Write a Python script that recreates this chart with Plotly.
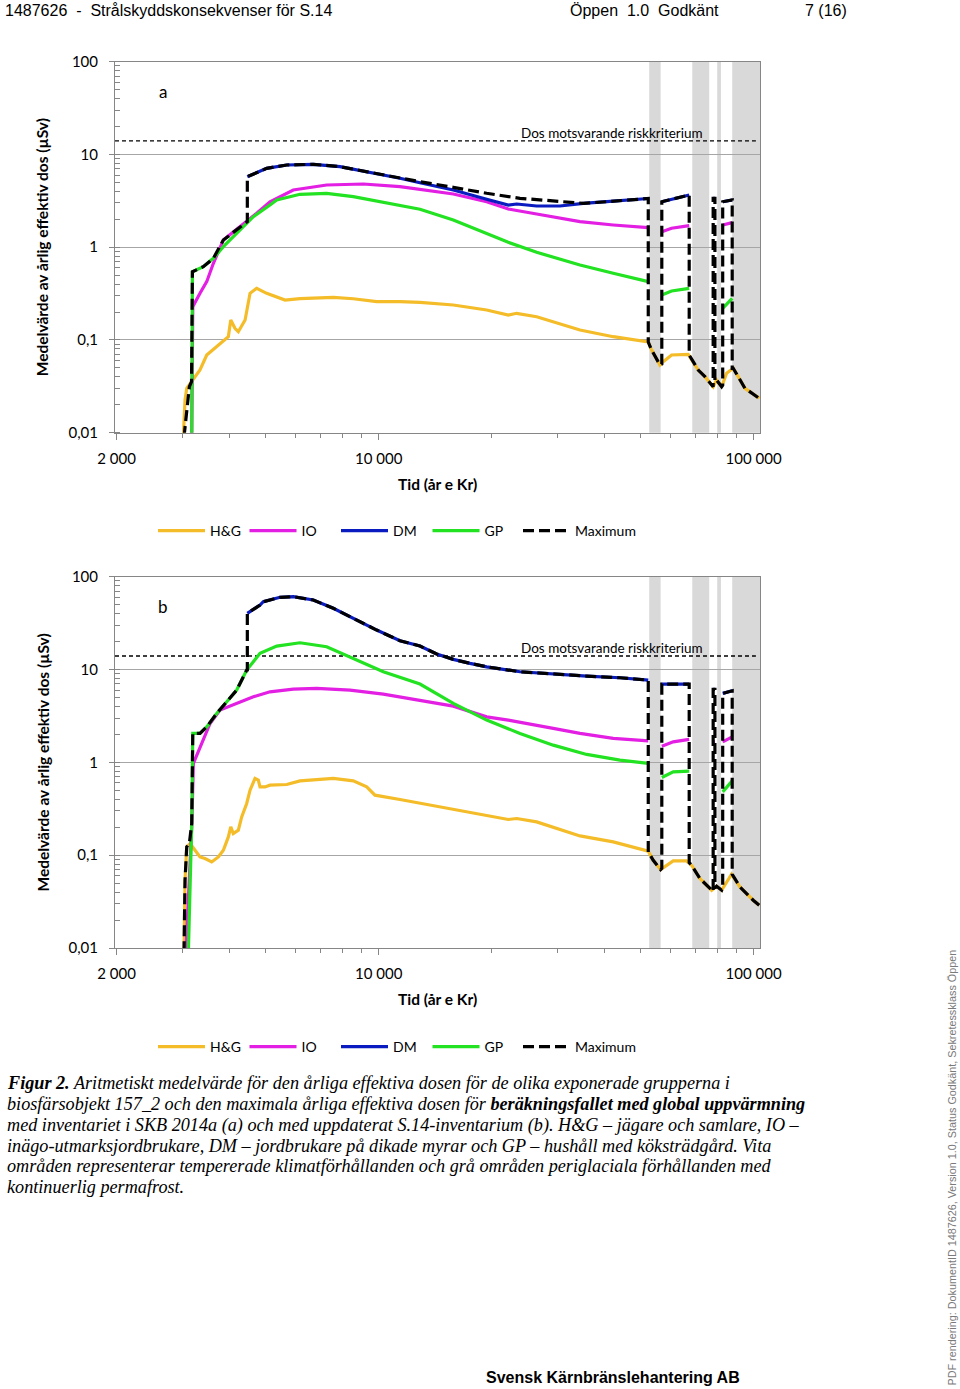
import math
import plotly.graph_objects as go

# ---------------- data (years AD, annual effective dose in µSv) ----------------
# panel a
a_hg_t = [3012, 3044, 3076, 3172, 3337, 3478, 3698, 3892, 3972, 4031, 4136, 4223, 4402, 4538, 4728, 5026, 5626, 6167, 7567, 8555, 9878, 11396, 12885, 15812, 19409, 22162, 23335, 26384, 34426, 42228, 52360, 53456, 56250, 57400, 60424, 66910, 69000, 71170, 74160, 78032, 79668, 82168, 84720, 88230, 90970, 94800, 103500]
a_hg_d = [0.009, 0.0225, 0.0301, 0.0355, 0.0474, 0.0688, 0.0846, 0.0999, 0.1084, 0.164, 0.1335, 0.1227, 0.164, 0.3184, 0.3605, 0.318, 0.2695, 0.2784, 0.2883, 0.278, 0.2584, 0.2584, 0.2546, 0.238, 0.2103, 0.1858, 0.1938, 0.178, 0.128, 0.1084, 0.095, 0.0779, 0.0537, 0.0583, 0.0688, 0.07, 0.0583, 0.0474, 0.0402, 0.0313, 0.037, 0.0313, 0.0437, 0.0495, 0.0402, 0.0301, 0.0235]

a_io_t = [3172, 3192, 3337, 3478, 3623, 3852, 4181, 4446, 4728, 5129, 5918, 7265, 9098, 11396, 12885, 15812, 19409, 22162, 26384, 34426, 42228, 52360, None, 56900, 60424, 67329, None, 78000, 78850, None, 82700, 87676]
a_io_d = [0.009, 0.2283, 0.3184, 0.425, 0.6707, 1.196, 1.56, 1.884, 2.319, 3.093, 4.137, 4.683, 4.8, 4.49, 4.21, 3.747, 3.093, 2.582, 2.28, 1.884, 1.736, 1.622, None, 1.469, 1.599, 1.706, None, 1.693, 1.693, None, 1.736, 1.838]

a_dm_t = [4463, 5026, 5685, 6692, 7885, 9290, 11396, 12885, 15812, 19409, 22162, 23335, 26384, 30447, 35131, 40551, 45844, 52360, None, 56900, 67329, None, 78000, 78850, None, 82700, 87676]
a_dm_d = [5.756, 7.09, 7.695, 7.83, 7.378, 6.516, 5.532, 4.959, 4.137, 3.285, 2.851, 2.923, 2.781, 2.781, 2.973, 3.093, 3.228, 3.35, None, 3.093, 3.654, None, 3.368, 3.368, None, 3.093, 3.228]

a_gp_t = [3172, 3185, 3405, 3623, 3852, 4181, 4632, 5129, 5346, 6167, 7265, 8555, 10287, 12885, 15812, 19409, 22162, 26384, 34426, 42228, 52360, None, 56900, 60424, 67329, None, 82700, 87676]
a_gp_d = [0.009, 0.544, 0.6163, 0.759, 1.013, 1.412, 2.133, 2.851, 3.228, 3.72, 3.813, 3.505, 3.047, 2.563, 1.964, 1.412, 1.129, 0.881, 0.643, 0.523, 0.425, None, 0.3052, 0.3372, 0.3605, None, 0.2194, 0.2812]

a_max_t = [3025, 3126, 3168, 3185, 3405, 3623, 3852, 4181, 4446, 4463, 4463, 5026, 5685, 6692, 7885, 9290, 11396, 12885, 15812, 19409, 23812, 29214, 35131, 40551, 45844, 52360, 52360, 53456, 56250, 56900, 56900, 67329, 67329, 69000, 71170, 74160, 78000, 78000, 78850, 78850, 79668, 82168, 82700, 82700, 87676, 87676, 88230, 90970, 94800, 103500]
a_max_d = [0.009, 0.0313, 0.0355, 0.544, 0.6163, 0.759, 1.196, 1.56, 1.884, 1.89, 5.756, 7.09, 7.695, 7.83, 7.378, 6.516, 5.532, 5.084, 4.424, 3.813, 3.368, 3.17, 2.973, 3.093, 3.228, 3.35, 0.095, 0.0779, 0.0537, 0.055, 3.093, 3.654, 0.0688, 0.0583, 0.0474, 0.0402, 0.0313, 3.368, 3.368, 0.0355, 0.037, 0.0313, 0.0325, 3.093, 3.228, 0.0495, 0.0495, 0.0402, 0.0301, 0.0235]

# panel b
b_hg_t = [3025, 3044, 3076, 3140, 3237, 3337, 3441, 3586, 3735, 3852, 3972, 4031, 4094, 4223, 4311, 4446, 4538, 4678, 4775, 4825, 4974, 5129, 5685, 6167, 7567, 8555, 9290, 9775, 11396, 13698, 15812, 19409, 22162, 23335, 26384, 34426, 42228, 52360, 53980, 56494, 61030, 66252, 68330, 71920, 77270, 79668, 82168, 87354, 91930, 99750, 103500]
b_hg_d = [0.009, 0.0537, 0.1227, 0.1335, 0.1131, 0.0957, 0.092, 0.0846, 0.0957, 0.1131, 0.1573, 0.2016, 0.1712, 0.1858, 0.2584, 0.3605, 0.5017, 0.6707, 0.6428, 0.544, 0.544, 0.5677, 0.5776, 0.6318, 0.6707, 0.6318, 0.544, 0.443, 0.398, 0.3455, 0.3106, 0.2695, 0.2423, 0.2484, 0.2283, 0.1612, 0.1389, 0.1103, 0.0882, 0.07, 0.0867, 0.0867, 0.0779, 0.056, 0.0419, 0.0462, 0.0419, 0.0623, 0.0455, 0.0327, 0.0289]

b_io_t = [3060, 3172, 3204, 3337, 3550, 3773, 4181, 4632, 5129, 5918, 6834, 8385, 10287, 13698, 15812, 19409, 22162, 29214, 34426, 42228, 52360, None, 56900, 61030, 67329, None, 78000, 78850, None, 82700, 87676]
b_io_d = [0.009, 0.2, 0.973, 1.469, 2.626, 3.654, 4.315, 5.084, 5.756, 6.155, 6.263, 6.004, 5.436, 4.49, 4.035, 3.093, 2.851, 2.319, 2.05, 1.81, 1.706, None, 1.495, 1.663, 1.766, None, 1.663, 1.663, None, 1.663, 1.884]

b_dm_t = [4463, 4825, 4923, 5454, 5918, 6692, 7567, 8555, 9878, 11396, 12885, 14280, 15812, 17520, 19409, 23812, 29214, 35870, 44010, 52360, None, 56900, 67329, None, 78000, 78850, None, 82700, 87676]
b_dm_d = [40.3, 49.55, 53.75, 59.96, 60.86, 56.08, 45.63, 35.6, 26.62, 20.42, 17.9, 14.68, 12.86, 11.65, 10.7, 9.456, 8.931, 8.5, 8.15, 7.695, None, 6.967, 6.967, None, 6.109, 6.109, None, 5.532, 5.9]

b_gp_t = [3107, 3140, 3172, 3192, 3337, 3478, 3698, 3934, 4181, 4446, 4728, 4825, 5346, 6167, 7265, 8555, 10287, 12885, 15812, 19409, 23812, 29214, 35870, 44010, 52360, None, 56900, 61030, 67329, None, 82700, 87676]
b_gp_d = [0.009, 0.0419, 0.2194, 2.05, 2.05, 2.413, 3.368, 4.49, 6.004, 9.865, 13.19, 14.93, 17.9, 19.43, 17.59, 13.19, 9.456, 6.967, 4.315, 2.851, 2.05, 1.532, 1.217, 1.056, 0.973, None, 0.6876, 0.79, 0.804, None, 0.4808, 0.6318]

b_max_t = [3025, 3044, 3076, 3126, 3172, 3192, 3337, 3478, 3698, 3934, 4181, 4446, 4463, 4463, 4825, 4923, 5454, 5918, 6692, 7567, 8555, 9878, 11396, 12885, 14280, 15812, 17520, 19409, 23812, 29214, 35870, 44010, 52360, 52360, 53980, 56494, 56900, 56900, 67329, 67329, 68330, 71920, 77270, 78000, 78000, 78850, 78850, 79668, 82168, 82700, 82700, 87676, 87676, 91930, 99750, 103500]
b_max_d = [0.009, 0.0537, 0.1227, 0.1335, 0.2194, 2.05, 2.05, 2.413, 3.368, 4.49, 6.004, 9.865, 9.9, 40.3, 49.55, 53.75, 59.96, 60.86, 56.08, 45.63, 35.6, 26.62, 20.42, 17.9, 14.68, 12.86, 11.65, 10.7, 9.456, 8.931, 8.5, 8.15, 7.695, 0.108, 0.0882, 0.07, 0.072, 6.967, 6.967, 0.083, 0.0779, 0.056, 0.0419, 0.0405, 6.109, 6.109, 0.044, 0.0462, 0.0419, 0.045, 5.532, 5.9, 0.0623, 0.0455, 0.0327, 0.0289]

# periglacial (grey) periods, years AD
band_start = [52670, 68610, 79970, 87690]
band_end = [56490, 76130, 81820, 104000]

# dose corresponding to the risk criterion
crit_t = [1980, 101400]
crit_d = [14, 14]
crit_label = "Dos motsvarande riskkriterium"
crit_label_t = 41900

series_names = ["H&G", "IO", "DM", "GP", "Maximum"]
x_tick_vals = [2000, 10000, 100000]
x_tick_text = ["2 000", "10 000", "100 000"]
x_minor_vals = [3000, 4000, 5000, 6000, 7000, 8000, 9000, 20000, 30000, 40000, 50000, 60000, 70000, 80000, 90000]
y_tick_vals = [0.01, 0.1, 1, 10, 100]
y_tick_text = ["0,01", "0,1", "1", "10", "100"]

# ---------------- styling ----------------
W, H = 960, 1389
def px(x):
    return x / W
def py(y):
    return 1 - y / H

COLORS = ["#F4BC28", "#E21FE2", "#0A1CC0", "#22E222", "#000000"]
FONT = "Lato"
AX = "#868686"

fig = go.Figure()

panels = [
    ("x", "y", ("legend", "legend3"), [(a_hg_t, a_hg_d), (a_io_t, a_io_d), (a_dm_t, a_dm_d), (a_gp_t, a_gp_d), (a_max_t, a_max_d)]),
    ("x2", "y2", ("legend2", "legend4"), [(b_hg_t, b_hg_d), (b_io_t, b_io_d), (b_dm_t, b_dm_d), (b_gp_t, b_gp_d), (b_max_t, b_max_d)]),
]

shapes = []
for xr, yr, lgs, series in panels:
    for s0, s1 in zip(band_start, band_end):
        shapes.append(dict(type="rect", xref=xr, yref=yr + " domain", x0=s0, x1=s1, y0=0, y1=1,
                           fillcolor="#d9d9d9", line=dict(width=0), layer="below"))
    fig.add_trace(go.Scatter(x=crit_t, y=crit_d, mode="lines", xaxis=xr, yaxis=yr, showlegend=False,
                             line=dict(color="#000", width=1.4, dash="4px,3px"), hoverinfo="skip"))
    for i, ((t, d), name) in enumerate(zip(series, series_names)):
        is_max = name == "Maximum"
        fig.add_trace(go.Scatter(x=t, y=d, mode="lines", name=name, xaxis=xr, yaxis=yr,
                                 legend=lgs[1] if is_max else lgs[0], connectgaps=False,
                                 line=dict(color=COLORS[i], width=3.2,
                                           dash="11px,5px" if is_max else "solid")))

xdom = [px(115), px(760)]
ydom_a = [py(432.7), py(61.7)]
ydom_b = [py(948), py(576.7)]

def xaxis(anchor):
    return dict(type="log", domain=xdom, anchor=anchor,
                range=[math.log10(1980), math.log10(104000)],
                tickmode="array", tickvals=x_tick_vals, ticktext=x_tick_text,
                ticks="outside", ticklen=6, tickcolor=AX, showline=True, linecolor=AX,
                mirror=True, showgrid=False, zeroline=False, ticklabelstandoff=6,
                automargin=False,
                tickfont=dict(family=FONT, size=15, color="#000"),
                minor=dict(tickmode="array", tickvals=x_minor_vals, ticks="outside",
                           ticklen=4, tickcolor=AX, showgrid=False))

def yaxis(anchor, dom):
    return dict(type="log", domain=dom, anchor=anchor, range=[-2, 2],
                tickmode="array", tickvals=y_tick_vals, ticktext=y_tick_text,
                ticks="outside", ticklen=5, tickcolor=AX, showline=True, linecolor=AX,
                mirror=True, showgrid=True, gridcolor="#a6a6a6", gridwidth=1,
                zeroline=False, ticklabelstandoff=8, automargin=False,
                tickfont=dict(family=FONT, size=15, color="#000"),
                minor=dict(dtick="D1", ticks="inside", ticklen=5, tickcolor=AX, showgrid=False))

legend_common = dict(orientation="h", xanchor="left", yanchor="middle",
                     font=dict(family=FONT, size=14, color="#000"), itemwidth=47,
                     bgcolor="rgba(0,0,0,0)", traceorder="normal")

ann = []
for ytop, letter, xr, yr in [(0, "a", "x", "y"), (515.3, "b", "x2", "y2")]:
    ann.append(dict(text="<b>Medelvärde av årlig effektiv dos (µSv)</b>", xref="paper", yref="paper",
                    x=px(42), y=py(247.2 + ytop), textangle=-90, showarrow=False,
                    font=dict(family=FONT, size=15.5, color="#000"), xanchor="center", yanchor="middle"))
    ann.append(dict(text="<b>Tid (år e Kr)</b>", xref="paper", yref="paper",
                    x=px(437.5), y=py(484 + ytop), showarrow=False,
                    font=dict(family=FONT, size=15.5, color="#000"), xanchor="center", yanchor="middle"))
    ann.append(dict(text=letter, xref="paper", yref="paper", x=px(163), y=py(91 + ytop),
                    showarrow=False, font=dict(family=FONT, size=17, color="#000"),
                    xanchor="center", yanchor="middle"))
    ann.append(dict(text=crit_label, xref=xr, yref=yr, x=math.log10(crit_label_t), y=math.log10(crit_d[0]),
                    showarrow=False, font=dict(family=FONT, size=13.5, color="#000"),
                    xanchor="center", yanchor="bottom", yshift=-2))

# header / footer / side text
hdr_font = dict(family="Liberation Sans", size=16, color="#000")
ann += [
    dict(text="1487626  -  Strålskyddskonsekvenser för S.14", xref="paper", yref="paper",
         x=px(3), y=py(10), xanchor="left", yanchor="middle", showarrow=False, font=hdr_font),
    dict(text="Öppen  1.0  Godkänt", xref="paper", yref="paper",
         x=px(568), y=py(10), xanchor="left", yanchor="middle", showarrow=False, font=hdr_font),
    dict(text="7 (16)", xref="paper", yref="paper",
         x=px(803), y=py(10), xanchor="left", yanchor="middle", showarrow=False, font=hdr_font),
    dict(text="<b>Svensk Kärnbränslehantering AB</b>", xref="paper", yref="paper",
         x=px(613), y=py(1377), xanchor="center", yanchor="middle", showarrow=False,
         font=dict(family="Liberation Sans", size=16, color="#000")),
    dict(text="PDF rendering: DokumentID 1487626, Version 1.0, Status Godkänt, Sekretessklass Öppen",
         xref="paper", yref="paper", x=px(951), y=py(1167.5), textangle=-90,
         xanchor="center", yanchor="middle", showarrow=False,
         font=dict(family="Liberation Sans", size=10.8, color="#7a7a7a")),
]

caption_lines = [
    "<b>Figur 2.</b> Aritmetiskt medelvärde för den årliga effektiva dosen för de olika exponerade grupperna i",
    "biosfärsobjekt 157_2 och den maximala årliga effektiva dosen för <b>beräkningsfallet med global uppvärmning</b>",
    "med inventariet i SKB 2014a (a) och med uppdaterat S.14-inventarium (b). H&G – jägare och samlare, IO –",
    "inägo-utmarksjordbrukare, DM – jordbrukare på dikade myrar och GP – hushåll med köksträdgård. Vita",
    "områden representerar tempererade klimatförhållanden och grå områden periglaciala förhållanden med",
    "kontinuerlig permafrost.",
]
cap_y = [1083, 1104, 1125, 1146, 1166, 1187]
for line, yy in zip(caption_lines, cap_y):
    ann.append(dict(text="<i>" + line + "</i>", xref="paper", yref="paper", x=px(5), y=py(yy),
                    xanchor="left", yanchor="middle", showarrow=False,
                    font=dict(family="Liberation Serif", size=18.2, color="#000")))

fig.update_layout(
    width=W, height=H, margin=dict(l=0, r=0, t=0, b=0, pad=0, autoexpand=False), autosize=False,
    paper_bgcolor="#fff", plot_bgcolor="#fff",
    xaxis=xaxis("y"), yaxis=yaxis("x", ydom_a),
    xaxis2=xaxis("y2"), yaxis2=yaxis("x2", ydom_b),
    legend=dict(x=px(153), y=py(531), entrywidth=29.5, entrywidthmode="pixels", **legend_common),
    legend2=dict(x=px(153), y=py(1047), entrywidth=29.5, entrywidthmode="pixels", **legend_common),
    legend3=dict(x=px(518), y=py(531), **legend_common),
    legend4=dict(x=px(518), y=py(1047), **legend_common),
    shapes=shapes, annotations=ann, showlegend=True,
)

fig.write_html("out.html", config={"displayModeBar": False},
               post_script="document.body.style.margin='0';document.body.style.overflow='hidden';")
